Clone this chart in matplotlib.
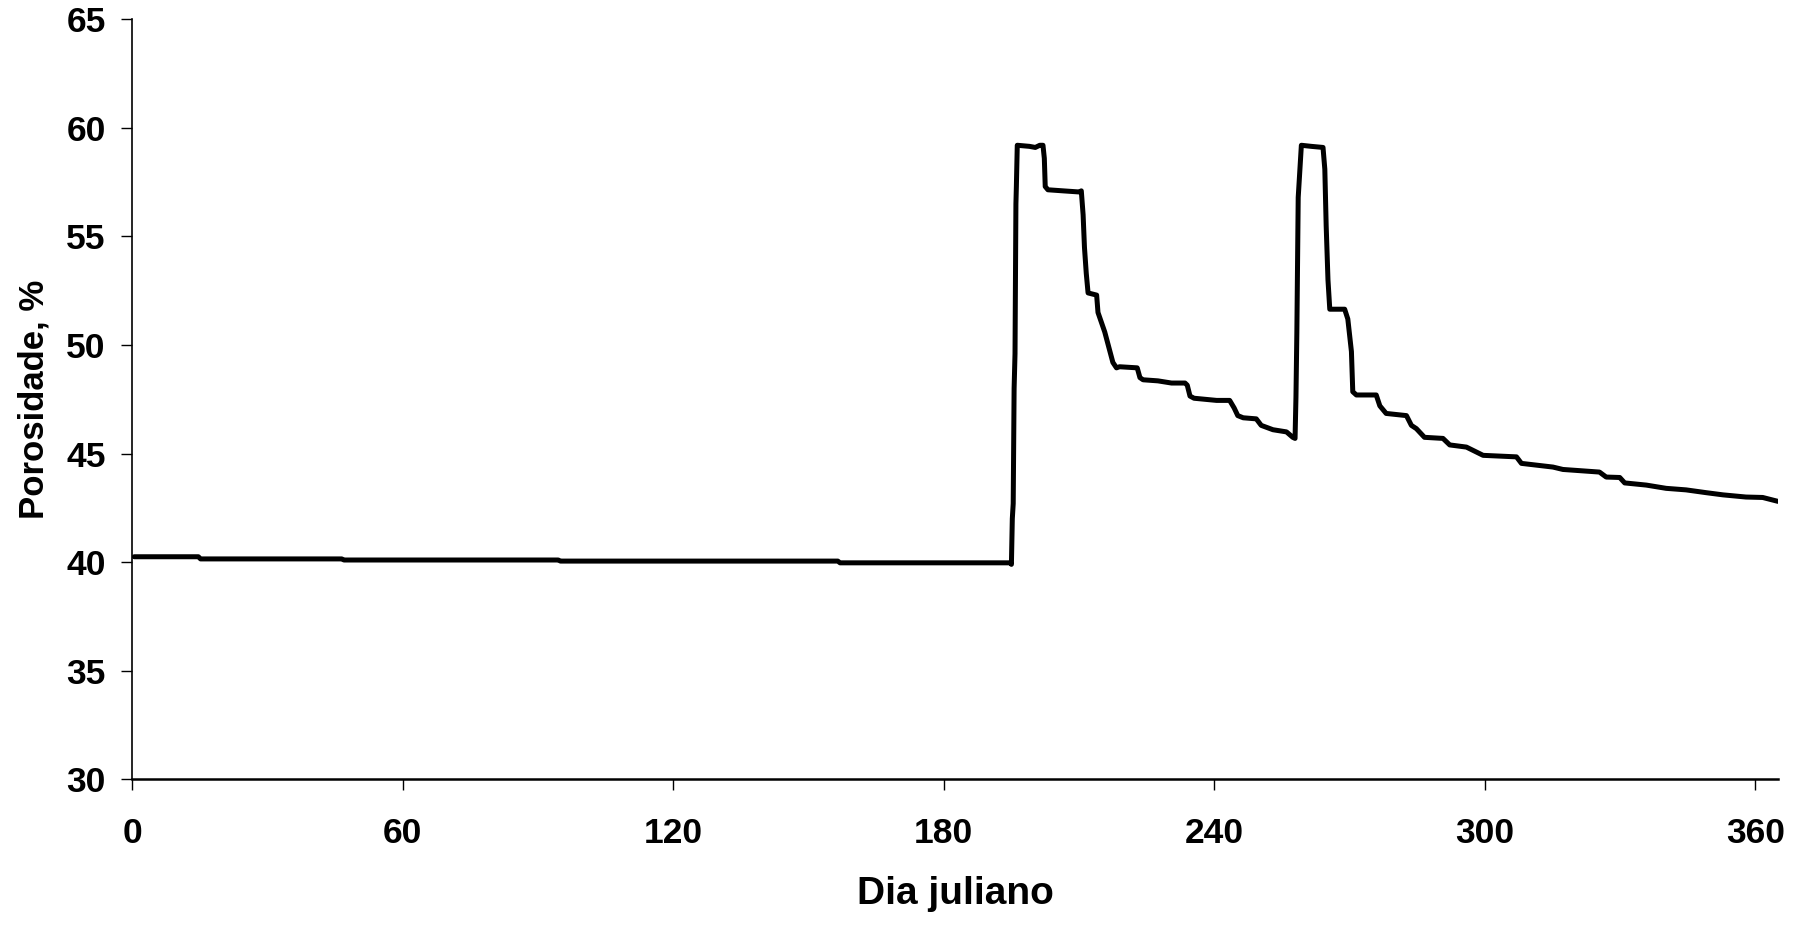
import numpy as np
import matplotlib
matplotlib.use("Agg")
import matplotlib.pyplot as plt

plt.rcParams['font.family'] = ['Liberation Sans', 'DejaVu Sans']
plt.rcParams['font.weight'] = 'bold'

# Dia juliano vs porosidade (%)
dia = [0.5, 14.7, 15.2, 46.5, 47.0, 94.5, 95.0, 156.5, 157.0, 194.8,
       195.0, 195.2, 195.4, 195.6, 195.8, 196.0, 196.1, 196.3, 199.0, 200.3,
       201.3, 202.0, 202.3, 202.5, 203.1, 206.5, 210.0, 210.5, 210.9, 211.2,
       211.6, 212.0, 213.9, 214.2, 215.7, 217.5, 218.3, 219.0, 222.9, 223.5,
       224.2, 227.5, 230.5, 233.5, 234.0, 234.6, 235.5, 240.5, 243.4, 244.4,
       245.2, 246.4, 249.3, 250.4, 253.0, 256.0, 257.4, 257.9, 258.1, 258.3,
       258.6, 259.3, 261.5, 264.1, 264.5, 264.8, 265.2, 265.6, 268.9, 269.6,
       270.4, 270.7, 271.5, 275.9, 276.7, 278.1, 282.6, 283.7, 284.8, 286.6,
       290.7, 292.2, 295.9, 299.6, 307.0, 308.1, 315.1, 317.3, 325.4, 326.9,
       329.9, 331.0, 335.8, 340.2, 344.6, 349.1, 352.8, 357.9, 361.6, 365.0]
porosidade = [40.25, 40.25, 40.15, 40.15, 40.10, 40.10, 40.05, 40.05, 39.97, 39.97,
              39.90, 42.0, 42.7, 48.0, 49.6, 56.5, 57.3, 59.2, 59.15, 59.1,
              59.2, 59.2, 58.6, 57.3, 57.15, 57.1, 57.05, 57.1, 56.0, 54.5,
              53.3, 52.4, 52.3, 51.5, 50.6, 49.2, 48.95, 49.0, 48.95, 48.5,
              48.4, 48.35, 48.25, 48.25, 48.15, 47.65, 47.55, 47.45, 47.45, 47.1,
              46.75, 46.65, 46.6, 46.3, 46.1, 46.0, 45.75, 45.7, 47.6, 50.6,
              56.8, 59.2, 59.15, 59.1, 58.1, 55.5, 53.0, 51.65, 51.65, 51.2,
              49.7, 47.85, 47.7, 47.7, 47.2, 46.85, 46.75, 46.3, 46.15, 45.75,
              45.7, 45.4, 45.3, 44.92, 44.85, 44.55, 44.38, 44.27, 44.15, 43.92,
              43.9, 43.65, 43.55, 43.4, 43.33, 43.2, 43.1, 43.0, 42.98, 42.8]

xticks = [0, 60, 120, 180, 240, 300, 360]
yticks = [30, 35, 40, 45, 50, 55, 60, 65]

fig = plt.figure(figsize=(18.04, 9.25), dpi=100)
ax = fig.add_axes([0.0732, 0.1575, 0.9124, 0.8216])

ax.plot(dia, porosidade, color="black", lw=3.6, solid_joinstyle="round",
        solid_capstyle="round")

ax.set_xlim(0, 365)
ax.set_ylim(30, 65)
ax.set_xticks(xticks)
ax.set_yticks(yticks)
ax.tick_params(axis="x", direction="out", length=8, width=1.0, pad=19, labelsize=25.5)
ax.tick_params(axis="y", direction="out", length=8, width=1.0, pad=11, labelsize=25.5)

for s in ["top", "right"]:
    ax.spines[s].set_visible(False)
ax.spines["left"].set_linewidth(1.2)
ax.spines["bottom"].set_linewidth(1.8)

ax.set_xlabel("Dia juliano", fontsize=28, fontweight="bold", labelpad=19)
ax.set_ylabel("Porosidade, %", fontsize=25, fontweight="bold", labelpad=11)

fig.savefig("out.png", dpi=100)
